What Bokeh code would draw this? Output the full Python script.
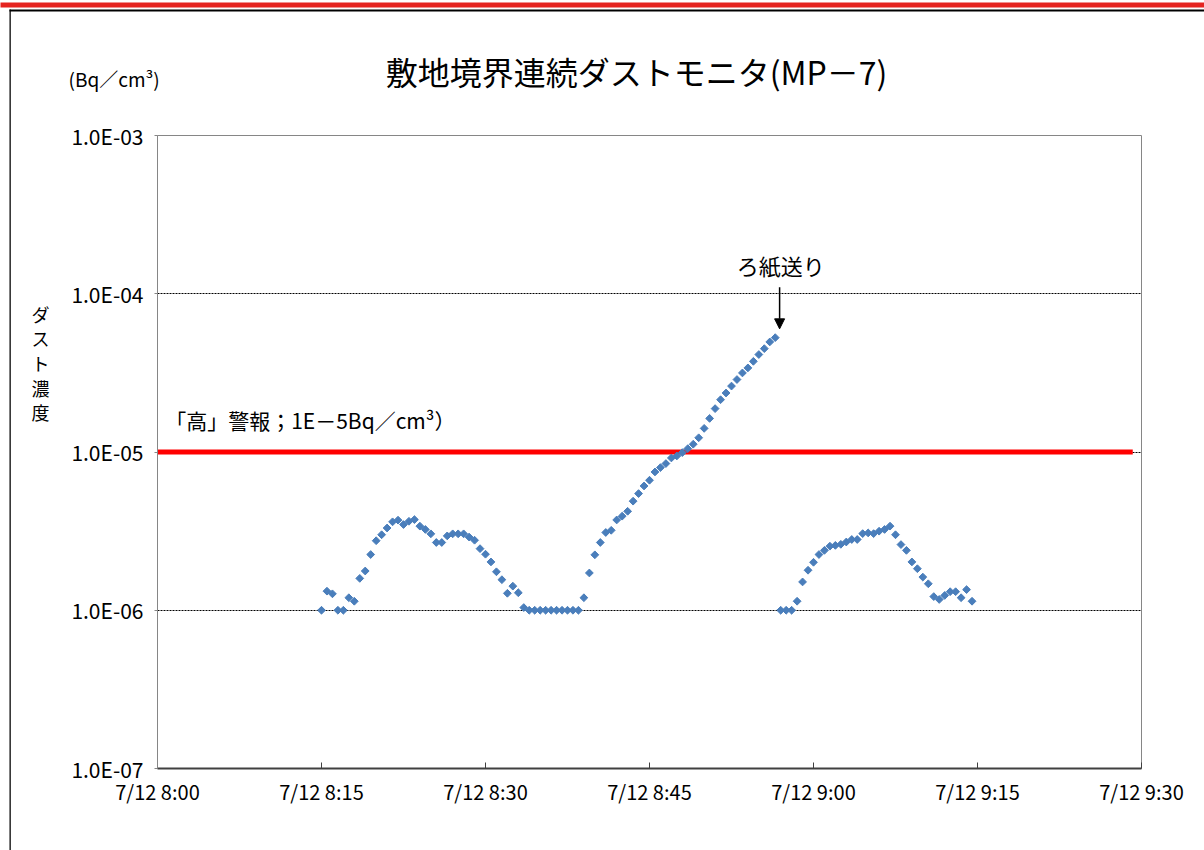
import numpy as np
from bokeh.plotting import figure
from bokeh.models import (FixedTicker, CustomJSTickFormatter, Label, Arrow, NormalHead,
                          ColumnDataSource, Range1d)
from bokeh.embed import file_html
from bokeh.resources import INLINE

# ---------------- data ----------------
title_text = "敷地境界連続ダストモニタ(MP－7)"
unit_text = "(Bq／cm³)"
y_title_text = "ダ\nス\nト\n濃\n度"
alarm_text = "「高」警報；1E－5Bq／cm³）"
filter_text = "ろ紙送り"

x_tick_values = [0, 15, 30, 45, 60, 75, 90]          # minutes after 7/12 8:00
x_tick_labels = ["7/12 8:00", "7/12 8:15", "7/12 8:30", "7/12 8:45",
                 "7/12 9:00", "7/12 9:15", "7/12 9:30"]
y_tick_values = [1e-7, 1e-6, 1e-5, 1e-4, 1e-3]
y_tick_labels = ["1.0E-07", "1.0E-06", "1.0E-05", "1.0E-04", "1.0E-03"]

sample_start_min = 15.0      # 8:15
sample_step_min = 0.5        # every 30 s
dust = [
    1.00e-6, 1.32e-6, 1.27e-6, 1.00e-6, 1.00e-6, 1.20e-6, 1.14e-6, 1.59e-6,
    1.77e-6, 2.25e-6, 2.75e-6, 3.00e-6, 3.31e-6, 3.62e-6, 3.71e-6, 3.48e-6,
    3.65e-6, 3.74e-6, 3.40e-6, 3.24e-6, 3.04e-6, 2.68e-6, 2.68e-6, 2.95e-6,
    3.04e-6, 3.04e-6, 3.04e-6, 2.90e-6, 2.77e-6, 2.45e-6, 2.26e-6, 2.02e-6,
    1.75e-6, 1.56e-6, 1.28e-6, 1.42e-6, 1.29e-6, 1.04e-6,
    1.00e-6, 1.00e-6, 1.00e-6, 1.00e-6, 1.00e-6, 1.00e-6, 1.00e-6, 1.00e-6,
    1.00e-6, 1.00e-6,
    1.20e-6, 1.72e-6, 2.24e-6, 2.68e-6, 3.10e-6, 3.20e-6, 3.72e-6, 3.93e-6,
    4.22e-6, 4.89e-6, 5.46e-6, 6.10e-6, 6.63e-6, 7.48e-6, 7.97e-6, 8.45e-6,
    9.17e-6, 9.44e-6, 9.91e-6, 1.05e-5, 1.12e-5, 1.23e-5, 1.41e-5, 1.63e-5,
    1.88e-5, 2.14e-5, 2.36e-5, 2.61e-5, 2.87e-5, 3.16e-5, 3.40e-5, 3.74e-5,
    4.13e-5, 4.50e-5, 4.96e-5, 5.28e-5,
    1.00e-6, 1.00e-6, 1.00e-6, 1.14e-6, 1.51e-6, 1.79e-6, 2.01e-6, 2.25e-6,
    2.39e-6, 2.54e-6, 2.57e-6, 2.61e-6, 2.70e-6, 2.80e-6, 2.80e-6, 3.05e-6,
    3.08e-6, 3.05e-6, 3.16e-6, 3.24e-6, 3.40e-6, 3.00e-6, 2.60e-6, 2.39e-6,
    2.02e-6, 1.83e-6, 1.62e-6, 1.47e-6, 1.22e-6, 1.17e-6, 1.24e-6, 1.31e-6,
    1.31e-6, 1.20e-6, 1.35e-6, 1.14e-6,
]
alarm_level = 1e-5
alarm_start_min = 0.0
alarm_end_min = 89.2
filter_feed_min = 56.9

# ---------------- figure ----------------
FONT = "Noto Sans CJK JP"
W, H = 1204, 850
FL, FR, FT, FB = 157, 1141, 135, 768     # frame edges on the canvas

times = sample_start_min + sample_step_min * np.arange(len(dust))
src = ColumnDataSource(dict(t=times, v=dust))

p = figure(width=W, height=H, output_backend="svg", toolbar_location=None,
           y_axis_type="log", x_range=Range1d(0, 90), y_range=Range1d(1e-7, 1e-3),
           min_border_left=FL, min_border_right=W - FR, min_border_top=FT,
           min_border_bottom=H - FB)
p.background_fill_color = "white"
p.border_fill_color = "white"
p.outline_line_color = "#868686"
p.outline_line_width = 1

p.xgrid.visible = False
p.ygrid.ticker = FixedTicker(ticks=y_tick_values)
p.ygrid.grid_line_color = "black"
p.ygrid.grid_line_width = 1
p.ygrid.grid_line_dash = "2 1"

# x axis
xa = p.xaxis[0]
xa.ticker = FixedTicker(ticks=x_tick_values)
xa.major_label_overrides = {v: l for v, l in zip(x_tick_values, x_tick_labels)}
xa.minor_tick_line_color = None
xa.major_tick_in = 6
xa.major_tick_out = 0
xa.major_tick_line_color = "#404040"
xa.axis_line_color = "#404040"
xa.axis_line_width = 2
xa.major_label_text_font = FONT
xa.major_label_text_font_size = "20px"
xa.major_label_text_color = "black"
xa.major_label_standoff = 8

# y axis
ya = p.yaxis[0]
ya.ticker = FixedTicker(ticks=y_tick_values)
ya.formatter = CustomJSTickFormatter(args=dict(vals=y_tick_values, labels=y_tick_labels), code="""
    let best = 0, bd = 1e9;
    for (let i = 0; i < vals.length; i++) {
        const d = Math.abs(Math.log10(tick) - Math.log10(vals[i]));
        if (d < bd) { bd = d; best = i; }
    }
    return labels[best];
""")
ya.minor_tick_line_color = None
ya.major_tick_in = 0
ya.major_tick_out = 3
ya.major_tick_line_color = "#868686"
ya.axis_line_color = "#868686"
ya.major_label_text_font = FONT
ya.major_label_text_font_size = "21px"
ya.major_label_text_color = "black"
ya.major_label_standoff = 11

# alarm line
p.line([alarm_start_min, alarm_end_min], [alarm_level, alarm_level],
       line_color="#ff0000", line_width=5)

# data points
p.scatter("t", "v", source=src, marker="square", angle=np.pi / 4, size=5.5,
          fill_color="#4a7ebb", line_color="#4a7ebb", line_width=1)

# annotations in data space
p.add_layout(Arrow(end=NormalHead(size=10, fill_color="black", line_color="black"),
                   x_start=filter_feed_min, y_start=1.1e-4,
                   x_end=filter_feed_min, y_end=6.0e-5,
                   line_color="black", line_width=1.5))
p.add_layout(Label(x=filter_feed_min + 0.1, y=1.51e-4, text=filter_text,
                   text_align="center", text_baseline="middle",
                   text_font=FONT, text_font_size="22px", text_color="black"))
p.add_layout(Label(x=0.7, y=1.59e-5, text=alarm_text,
                   text_align="left", text_baseline="middle",
                   text_font=FONT, text_font_size="21px", text_color="black"))

# texts outside the frame, placed in side panels (not clipped), canvas units
p.add_layout(Label(x=636, y=70, x_units="canvas", y_units="canvas", text=title_text,
                   text_align="center", text_baseline="middle",
                   text_font=FONT, text_font_size="32px", text_color="black"), "above")
p.add_layout(Label(x=68, y=78, x_units="canvas", y_units="canvas", text=unit_text,
                   text_align="left", text_baseline="middle",
                   text_font=FONT, text_font_size="19px", text_color="black"), "above")
p.add_layout(Label(x=40, y=300, x_units="canvas", y_units="canvas", text=y_title_text,
                   text_align="center", text_baseline="top", text_line_height=0.95,
                   text_font=FONT, text_font_size="18px", text_color="black"), "left")

# page decoration: red bar at the top and the chart-area border (top and left edges)
p.add_layout(Label(x=0, y=2, x_units="canvas", y_units="canvas", text=" ",
                   text_font_size="1px", text_align="left", text_baseline="top",
                   background_fill_color="#e52420", background_fill_alpha=1,
                   padding=dict(left=0, right=W, top=0, bottom=4)), "above")
p.add_layout(Label(x=9, y=9, x_units="canvas", y_units="canvas", text=" ",
                   text_font_size="1px", text_align="left", text_baseline="top",
                   background_fill_color="black", background_fill_alpha=1,
                   padding=dict(left=0, right=W, top=0, bottom=1)), "above")
p.add_layout(Label(x=9, y=9, x_units="canvas", y_units="canvas", text=" ",
                   text_font_size="1px", text_align="left", text_baseline="top",
                   background_fill_color="black", background_fill_alpha=1,
                   padding=dict(left=0, right=1, top=0, bottom=H)), "left")

open("out.html", "w").write(file_html(p, INLINE))
